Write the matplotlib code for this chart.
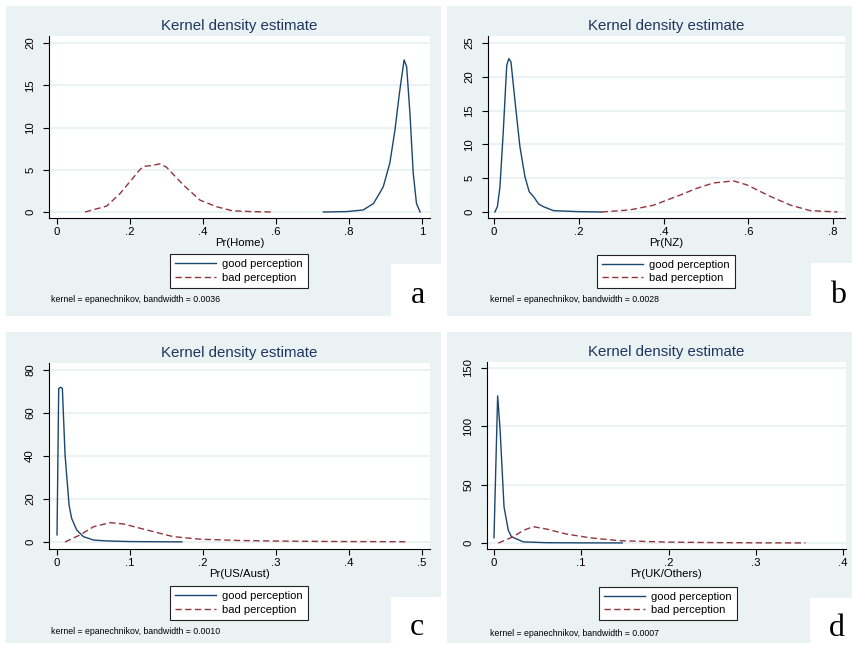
import matplotlib
matplotlib.use('Agg')
import matplotlib.pyplot as plt
from matplotlib.patches import Rectangle

plt.rcParams['font.family'] = ['Liberation Sans', 'DejaVu Sans']

# --- data (kernel density curves) ---
home_good_x = [0.73, 0.794, 0.839, 0.867, 0.885, 0.894, 0.912, 0.926, 0.938, 0.951, 0.958, 0.967, 0.976, 0.985, 0.995]
home_good_y = [0, 0.05, 0.24, 1.0, 2.3, 3.0, 5.8, 9.7, 14.0, 18.0, 17.2, 11.7, 4.6, 1.0, 0]
home_bad_x = [0.077, 0.136, 0.173, 0.2, 0.227, 0.237, 0.26, 0.282, 0.30, 0.346, 0.392, 0.437, 0.48, 0.53, 0.588]
home_bad_y = [0, 0.7, 2.2, 3.6, 5.0, 5.4, 5.5, 5.7, 5.3, 3.2, 1.4, 0.63, 0.15, 0.05, 0]

nz_good_x = [0.002, 0.008, 0.014, 0.022, 0.03, 0.035, 0.04, 0.05, 0.061, 0.073, 0.083, 0.093, 0.105, 0.116, 0.14, 0.2, 0.254]
nz_good_y = [0, 0.8, 3.7, 12.1, 21.7, 22.7, 22.2, 16.1, 9.7, 5.2, 3.0, 2.3, 1.2, 0.8, 0.2, 0.05, 0]
nz_bad_x = [0.254, 0.32, 0.376, 0.439, 0.478, 0.518, 0.565, 0.597, 0.652, 0.7, 0.746, 0.81]
nz_bad_y = [0, 0.3, 1.0, 2.5, 3.5, 4.3, 4.6, 4.0, 2.3, 1.0, 0.2, 0]

us_good_x = [0.0, 0.0023, 0.005, 0.0073, 0.011, 0.0165, 0.020, 0.027, 0.036, 0.05, 0.068, 0.1, 0.14, 0.171]
us_good_y = [3.3, 71.5, 72, 71.5, 40.5, 17.2, 11, 5.6, 2.5, 0.9, 0.5, 0.2, 0.1, 0.05]
us_bad_x = [0.011, 0.0315, 0.05, 0.073, 0.091, 0.123, 0.159, 0.196, 0.25, 0.3, 0.35, 0.4, 0.45, 0.477]
us_bad_y = [0, 3.3, 7.1, 9.0, 8.4, 5.6, 2.5, 1.3, 0.7, 0.45, 0.3, 0.2, 0.15, 0.1]

uk_good_x = [0.0, 0.0042, 0.007, 0.0115, 0.0164, 0.02, 0.0336, 0.06, 0.1, 0.147]
uk_good_y = [4.5, 126, 97, 31, 11, 5.4, 1, 0.3, 0.15, 0.1]
uk_bad_x = [0.005, 0.022, 0.034, 0.045, 0.06, 0.083, 0.11, 0.144, 0.2, 0.25, 0.3, 0.357]
uk_bad_y = [0, 5.4, 11, 14, 12, 7.7, 4.5, 2.0, 0.8, 0.4, 0.2, 0.1]

x_labels = ['Pr(Home)', 'Pr(NZ)', 'Pr(US/Aust)', 'Pr(UK/Others)']
bandwidths = ['0.0036', '0.0028', '0.0010', '0.0007']
panel_letters = ['a', 'b', 'c', 'd']
x_ticks = [[0, 0.2, 0.4, 0.6, 0.8, 1.0], [0, 0.2, 0.4, 0.6, 0.8],
           [0, 0.1, 0.2, 0.3, 0.4, 0.5], [0, 0.1, 0.2, 0.3, 0.4]]
x_ticklabels = [['0', '.2', '.4', '.6', '.8', '1'], ['0', '.2', '.4', '.6', '.8'],
                ['0', '.1', '.2', '.3', '.4', '.5'], ['0', '.1', '.2', '.3', '.4']]
y_ticks = [[0, 5, 10, 15, 20], [0, 5, 10, 15, 20, 25], [0, 20, 40, 60, 80], [0, 50, 100, 150]]
series = [(home_good_x, home_good_y, home_bad_x, home_bad_y),
          (nz_good_x, nz_good_y, nz_bad_x, nz_bad_y),
          (us_good_x, us_good_y, us_bad_x, us_bad_y),
          (uk_good_x, uk_good_y, uk_bad_x, uk_bad_y)]

# layout in pixels (left, right, top, bottom) and axis limits
W, H = 853, 645
axes_px = [(49, 430, 36, 218), (488, 845, 36, 218), (49, 430, 363, 549), (487, 846, 362, 549)]
xlims = [(-0.0219, 1.022), (-0.0142, 0.828), (-0.011, 0.511), (-0.008, 0.4034)]
ylims = [(-0.71, 20.83), (-0.89, 26.04), (-3.26, 83.3), (-5.1, 155.0)]
bg_px = [(6, 441, 6, 315.5), (447, 852, 6, 315.5), (6, 441, 332, 643), (447, 852, 332, 643)]
box_px = [(391, 441, 264, 315.5), (811, 852, 263, 315.5), (391, 441, 597, 643), (810, 852, 598, 643)]
legend_c = [(239, 271), (666, 271.5), (239, 603), (668, 603.5)]
note_xy = [(51, 299), (490, 299), (51, 631), (490, 633)]
letter_xy = [(418, 303), (838, 303), (417, 635), (837, 636)]

BG = '#EAF2F3'
NAVY = '#1A476F'
MAROON = '#90353B'
TITLE = '#1E3560'


def fx(px):
    return px / W


def fy(py):
    return 1 - py / H


fig = plt.figure(figsize=(W / 100, H / 100), dpi=100)

for i in range(4):
    # panel background and white label box
    l, r, t, b = bg_px[i]
    fig.add_artist(Rectangle((fx(l), fy(b)), fx(r - l), (b - t) / H, transform=fig.transFigure,
                             facecolor=BG, edgecolor='none', zorder=0))
    l, r, t, b = box_px[i]
    fig.add_artist(Rectangle((fx(l), fy(b)), fx(r - l), (b - t) / H, transform=fig.transFigure,
                             facecolor='white', edgecolor='none', zorder=0))

    l, r, t, b = axes_px[i]
    ax = fig.add_axes([fx(l), fy(b), fx(r - l), (b - t) / H])
    ax.set_facecolor('white')
    gx, gy, bx, by = series[i]
    ax.plot(gx, gy, color=NAVY, lw=1.0, label='good perception', zorder=3)
    ax.plot(bx, by, color=MAROON, lw=1.0, ls=(0, (4.5, 2.5)), label='bad perception', zorder=3)

    ax.set_xlim(*xlims[i])
    ax.set_ylim(*ylims[i])
    ax.set_xticks(x_ticks[i])
    ax.set_xticklabels(x_ticklabels[i])
    ax.set_yticks(y_ticks[i])
    ax.set_yticklabels([str(v) for v in y_ticks[i]], rotation=90, va='center')
    ax.tick_params(axis='x', length=4, width=0.8, pad=2.5, labelsize=8.2)
    ax.tick_params(axis='y', length=4, width=0.8, pad=6, labelsize=8.2)
    for yv in y_ticks[i]:
        ax.axhline(yv, color=BG, lw=1.5, zorder=1)
    for s in ['top', 'right']:
        ax.spines[s].set_visible(False)
    for s in ['left', 'bottom']:
        ax.spines[s].set_linewidth(0.8)
    ax.set_xlabel(x_labels[i], fontsize=8.2, labelpad=1)

    fig.text(fx((l + r) / 2), fy(t - 10), 'Kernel density estimate', ha='center', va='center',
             fontsize=10.8, color=TITLE)

    cx, cy = legend_c[i]
    leg = ax.legend(loc='center', bbox_to_anchor=(fx(cx), fy(cy)), bbox_transform=fig.transFigure,
                    fontsize=8, handlelength=3.7, handletextpad=0.5, labelspacing=0.3,
                    borderpad=0.45, fancybox=False, framealpha=1, edgecolor='#222222')
    leg.get_frame().set_linewidth(0.8)

    nx, ny = note_xy[i]
    fig.text(fx(nx), fy(ny), 'kernel = epanechnikov, bandwidth = ' + bandwidths[i],
             ha='left', va='center', fontsize=6.3)

    lx, ly = letter_xy[i]
    fig.text(fx(lx), fy(ly), panel_letters[i], ha='center', va='baseline', fontsize=23,
             family=['Liberation Serif', 'DejaVu Serif'])

fig.savefig('out.png', dpi=100)
